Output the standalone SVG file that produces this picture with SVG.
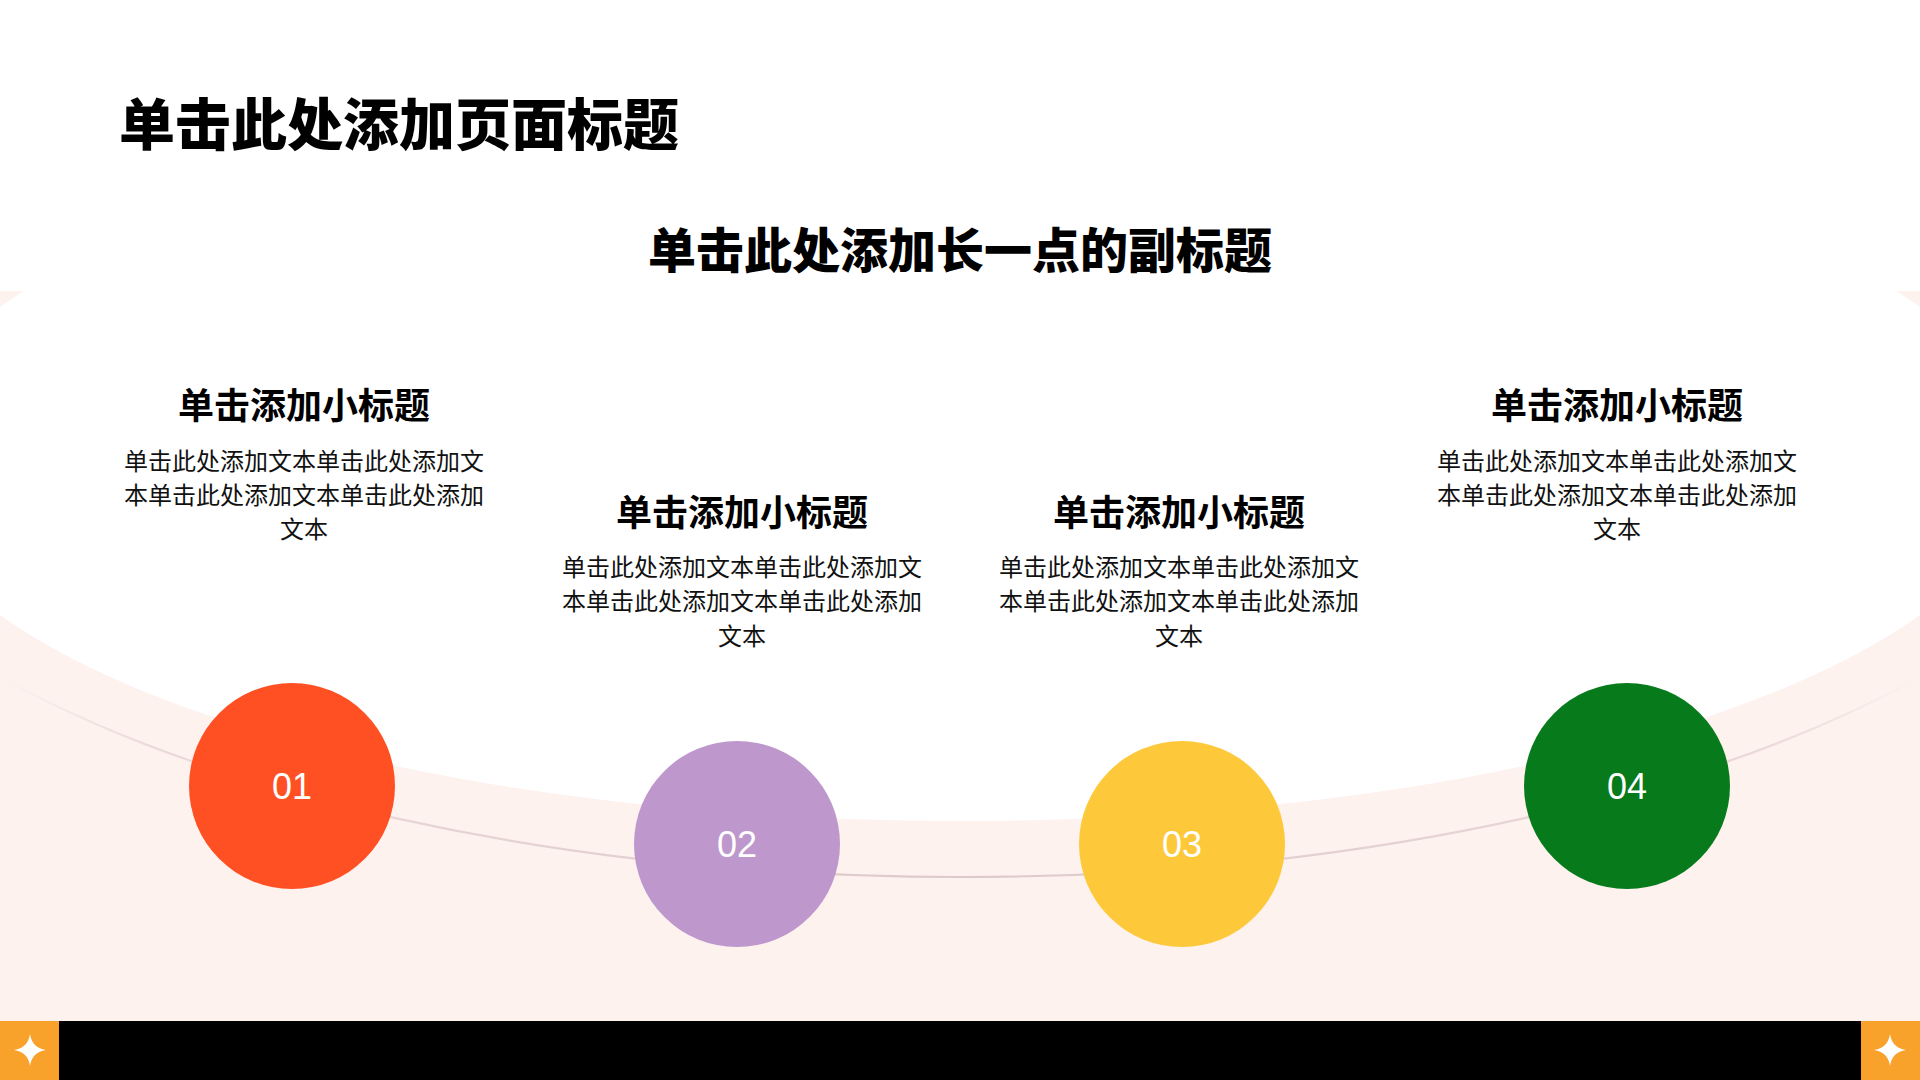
<svg xmlns="http://www.w3.org/2000/svg" width="1920" height="1080" viewBox="0 0 1920 1080">
  <defs>
    <style>
      .title { font-family: "Noto Sans CJK SC", "Liberation Sans", sans-serif; font-weight: 900; fill: #000; }
      .head { font-family: "Noto Sans CJK SC", "Liberation Sans", sans-serif; font-weight: 700; font-size: 36px; fill: #000; text-anchor: middle; }
      .body { font-family: "Noto Sans CJK SC", "Liberation Sans", sans-serif; font-weight: 400; font-size: 24px; fill: #111; text-anchor: middle; }
      .num { font-family: "Liberation Sans", Arial, sans-serif; font-size: 36px; fill: #fff; text-anchor: middle; }
      .star { fill: #fff; }
    </style>
    <linearGradient id="lineGrad" x1="0" y1="0" x2="1920" y2="0" gradientUnits="userSpaceOnUse">
      <stop offset="0" stop-color="#E3CFCF" stop-opacity="0"/>
      <stop offset="0.08" stop-color="#E3CFCF" stop-opacity="0.7"/>
      <stop offset="0.5" stop-color="#DCC9C9" stop-opacity="1"/>
      <stop offset="0.92" stop-color="#E3CFCF" stop-opacity="0.7"/>
      <stop offset="1" stop-color="#E3CFCF" stop-opacity="0"/>
    </linearGradient>
  </defs>

  <g id="background">
    <rect x="0" y="0" width="1920" height="1080" fill="#FFFFFF"/>
    <rect x="0" y="291" width="1920" height="730" fill="#FEF2EF"/>
    <ellipse cx="960" cy="461" rx="1062" ry="360" fill="#FFFFFF"/>
    <rect x="59" y="1021" width="1802" height="59" fill="#000000"/>
    <rect x="0" y="1021" width="59" height="59" fill="#F9A22B"/>
    <rect x="1861" y="1021" width="59" height="59" fill="#F9A22B"/>
    <path class="star" d="M30,1034 Q32,1048 46,1050 Q32,1052 30,1066 Q28,1052 14,1050 Q28,1048 30,1034 Z"/>
    <path class="star" d="M1890,1034 Q1892,1048 1906,1050 Q1892,1052 1890,1066 Q1888,1052 1874,1050 Q1888,1048 1890,1034 Z"/>
  </g>

  <g id="titles">
    <text class="title" x="119" y="145" font-size="56">单击此处添加页面标题</text>
    <text class="title" x="960" y="268" font-size="48" text-anchor="middle">单击此处添加长一点的副标题</text>
  </g>

  <g id="connectors">
    <path d="M0,677 A1200,500 0 0 0 1920,677" fill="none" stroke="url(#lineGrad)" stroke-width="2.2"/>
  </g>

  <g id="node-01">
    <circle cx="292" cy="786" r="103" fill="#FF5023"/>
    <text class="num" x="292" y="799">01</text>
    <text class="head" x="304" y="419">单击添加小标题</text>
    <text class="body" x="304" y="470">单击此处添加文本单击此处添加文</text>
    <text class="body" x="304" y="504">本单击此处添加文本单击此处添加</text>
    <text class="body" x="304" y="538">文本</text>
  </g>

  <g id="node-02">
    <circle cx="737" cy="844" r="103" fill="#BE98CC"/>
    <text class="num" x="737" y="857">02</text>
    <text class="head" x="742" y="526">单击添加小标题</text>
    <text class="body" x="742" y="576">单击此处添加文本单击此处添加文</text>
    <text class="body" x="742" y="610">本单击此处添加文本单击此处添加</text>
    <text class="body" x="742" y="645">文本</text>
  </g>

  <g id="node-03">
    <circle cx="1182" cy="844" r="103" fill="#FDC93B"/>
    <text class="num" x="1182" y="857">03</text>
    <text class="head" x="1179" y="526">单击添加小标题</text>
    <text class="body" x="1179" y="576">单击此处添加文本单击此处添加文</text>
    <text class="body" x="1179" y="610">本单击此处添加文本单击此处添加</text>
    <text class="body" x="1179" y="645">文本</text>
  </g>

  <g id="node-04">
    <circle cx="1627" cy="786" r="103" fill="#077A1C"/>
    <text class="num" x="1627" y="799">04</text>
    <text class="head" x="1617" y="419">单击添加小标题</text>
    <text class="body" x="1617" y="470">单击此处添加文本单击此处添加文</text>
    <text class="body" x="1617" y="504">本单击此处添加文本单击此处添加</text>
    <text class="body" x="1617" y="538">文本</text>
  </g>
</svg>
